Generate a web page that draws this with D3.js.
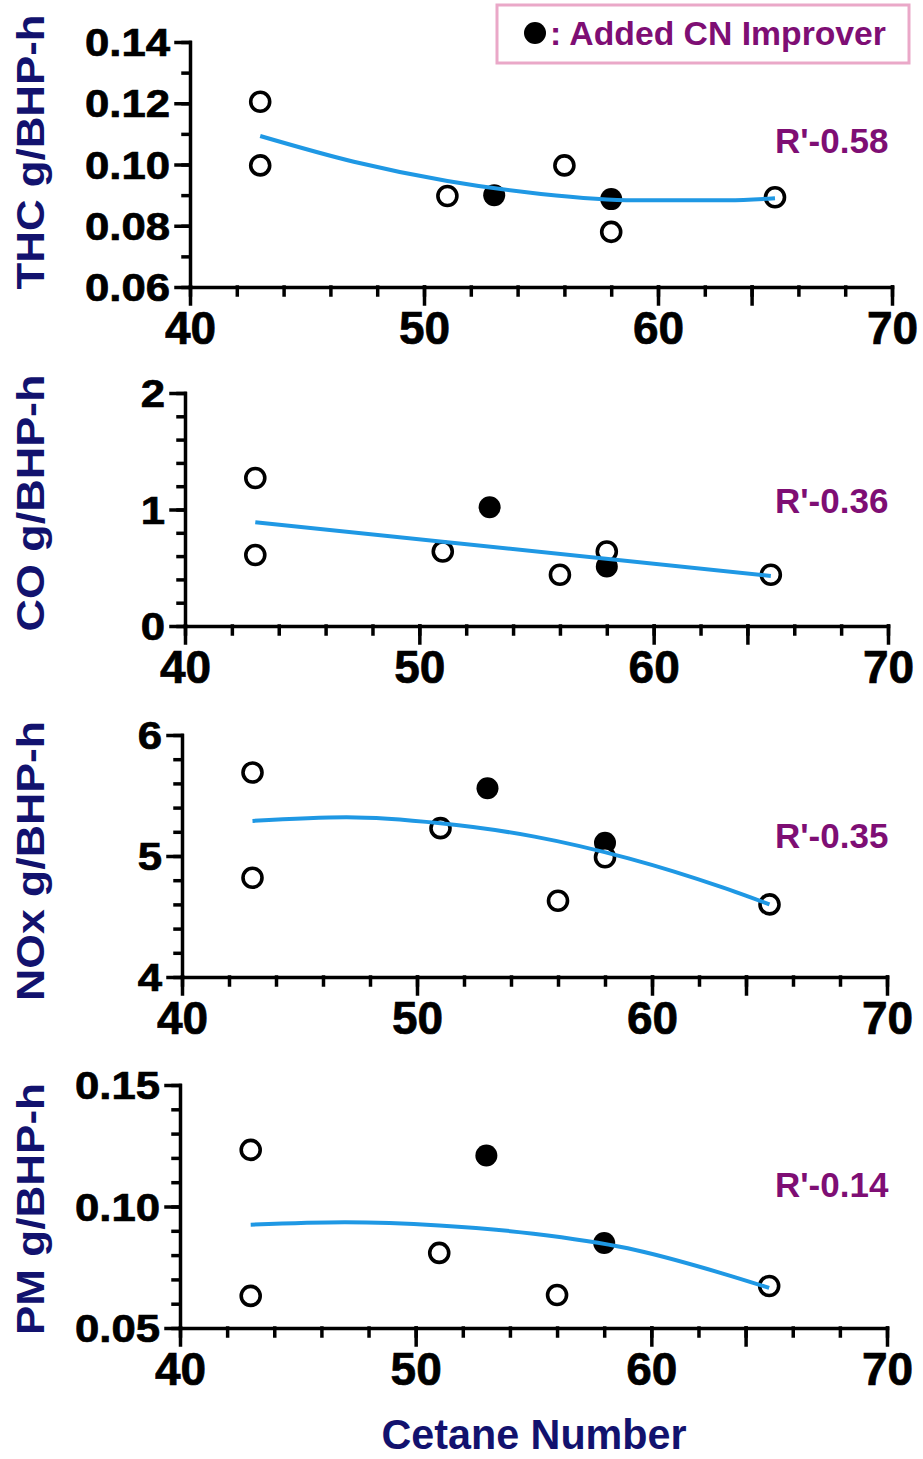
<!DOCTYPE html>
<html>
<head>
<meta charset="utf-8">
<script src="https://cdn.jsdelivr.net/npm/d3@7"></script>
<style>
  html, body { margin: 0; padding: 0; background: #fff; }
  svg { display: block; font-family: "Liberation Sans", Arial, Helvetica, sans-serif; font-weight: bold; }
  .axis .domain, .axis line { stroke: #000; stroke-width: 3.5; stroke-linecap: square; }
  .axis text { stroke: #000; stroke-width: 0.7; }
</style>
</head>
<body>
<div id="chart"></div>
<script>
// measured points, one entry per fuel
const cetane   = [43, 43, 51, 53, 56, 58, 58, 65];
const improver = [0, 0, 0, 1, 0, 1, 0, 0];
const thc = [0.1205, 0.0997, 0.0897, 0.0900, 0.0997, 0.0887, 0.0780, 0.0893];
const co  = [1.27, 0.61, 0.64, 1.02, 0.44, 0.51, 0.64, 0.44];
const nox = [5.69, 4.82, 5.23, 5.56, 4.63, 5.11, 4.99, 4.60];
const pm  = [0.1233, 0.0632, 0.0809, 0.1210, 0.0636, 0.0850, null, 0.0673];

// fitted curves
const fitCN  = [43, 47, 51, 55, 59, 63, 65];
const thcFit = [0.1093, 0.1009, 0.0946, 0.0904, 0.0883, 0.0883, 0.0890];
const noxFit = [5.29, 5.32, 5.27, 5.16, 4.98, 4.74, 4.60];
const pmFit  = [0.0925, 0.0935, 0.0922, 0.0888, 0.0828, 0.0725, 0.0665];
const coFitCN = [43, 65];
const coFit   = [0.89, 0.43];

// axis ticks
const xTicks   = [40, 50, 60, 70];
const thcTicks = [0.06, 0.08, 0.10, 0.12, 0.14];
const coTicks  = [0, 1, 2];
const noxTicks = [4, 5, 6];
const pmTicks  = [0.05, 0.10, 0.15];

const titles  = ['THC g/BHP-h', 'CO g/BHP-h', 'NOx g/BHP-h', 'PM g/BHP-h'];
const rLabels = ["R'-0.58", "R'-0.36", "R'-0.35", "R'-0.14"];

const panels = [
  {title: titles[0], vals: thc, fx: fitCN,   fy: thcFit, ticks: thcTicks, minor: 0.01, fmt: '.2f', r: rLabels[0]},
  {title: titles[1], vals: co,  fx: coFitCN, fy: coFit,  ticks: coTicks,  minor: 0.2,  fmt: 'd',   r: rLabels[1]},
  {title: titles[2], vals: nox, fx: fitCN,   fy: noxFit, ticks: noxTicks, minor: 0.2,  fmt: 'd',   r: rLabels[2]},
  {title: titles[3], vals: pm,  fx: fitCN,   fy: pmFit,  ticks: pmTicks,  minor: 0.01, fmt: '.2f', r: rLabels[3]}
];

// pixel layout of each panel
const layout = [
  {x0: 190, x1: 892, y0: 287,  y1: 42,   tcy: 152,  tlen: 275, ry: 153},
  {x0: 185, x1: 888, y0: 626,  y1: 393,  tcy: 503,  tlen: 257, ry: 513},
  {x0: 182, x1: 887, y0: 977,  y1: 735,  tcy: 861,  tlen: 280, ry: 848},
  {x0: 180, x1: 887, y0: 1328, y1: 1085, tcy: 1209, tlen: 252, ry: 1197}
];

const W = 923, H = 1459;
const navy = '#12126e', purple = '#7e0e74', blue = '#1f98e4';

const svg = d3.select('#chart').append('svg')
  .attr('width', W).attr('height', H)
  .attr('viewBox', `0 0 ${W} ${H}`);

panels.forEach((p, i) => {
  const L = layout[i];
  const x = d3.scaleLinear().domain([40, 70]).range([L.x0, L.x1]);
  const lo = p.ticks[0], hi = p.ticks[p.ticks.length - 1];
  const y = d3.scaleLinear().domain([lo, hi]).range([L.y0, L.y1]);
  const g = svg.append('g');

  // x axis: minor every 2, long ticks at decades (and the odd long one at 64)
  g.append('g').attr('class', 'axis')
    .attr('transform', `translate(0,${L.y0})`)
    .call(d3.axisBottom(x).tickValues(d3.range(40, 71, 2)).tickSize(8).tickSizeOuter(0).tickFormat(''));
  const xa = g.append('g').attr('class', 'axis')
    .attr('transform', `translate(0,${L.y0})`)
    .call(d3.axisBottom(x).tickValues(xTicks.concat([64])).tickSize(17).tickSizeOuter(0)
      .tickFormat(d => d === 64 ? '' : d));
  xa.select('.domain').remove();
  xa.selectAll('text')
    .attr('y', 57).attr('dy', 0)
    .attr('fill', '#000').attr('font-size', 46);

  // y axis
  g.append('g').attr('class', 'axis')
    .attr('transform', `translate(${x(40)},0)`)
    .call(d3.axisLeft(y).tickValues(d3.range(lo, hi + p.minor / 2, p.minor)).tickSize(7).tickSizeOuter(0).tickFormat(''));
  const ya = g.append('g').attr('class', 'axis')
    .attr('transform', `translate(${x(40)},0)`)
    .call(d3.axisLeft(y).tickValues(p.ticks).tickSize(14).tickSizeOuter(0).tickPadding(6)
      .tickFormat(d3.format(p.fmt)));
  ya.select('.domain').remove();
  ya.selectAll('text')
    .attr('fill', '#000').attr('font-size', 38)
    .attr('dy', '0.36em')
    .each(function() {
      const w = this.getComputedTextLength();
      d3.select(this).attr('textLength', w * 1.15).attr('lengthAdjust', 'spacingAndGlyphs');
    });

  // y title
  g.append('text')
    .attr('transform', `translate(44,${L.tcy}) rotate(-90)`)
    .attr('text-anchor', 'middle')
    .attr('font-size', 39)
    .attr('fill', navy)
    .attr('textLength', L.tlen)
    .attr('lengthAdjust', 'spacingAndGlyphs')
    .text(p.title);

  // points
  const pts = cetane.map((c, k) => ({c, v: p.vals[k], f: improver[k]})).filter(d => d.v != null);
  g.selectAll('circle.f').data(pts.filter(d => d.f)).join('circle')
    .attr('class', 'f')
    .attr('cx', d => x(d.c)).attr('cy', d => y(d.v))
    .attr('r', 11).attr('fill', '#000');
  g.selectAll('circle.o').data(pts.filter(d => !d.f)).join('circle')
    .attr('class', 'o')
    .attr('cx', d => x(d.c)).attr('cy', d => y(d.v))
    .attr('r', 9.5).attr('fill', '#fff').attr('stroke', '#000').attr('stroke-width', 3.6);

  // fit curve
  const line = d3.line()
    .x(d => x(d[0])).y(d => y(d[1]))
    .curve(d3.curveMonotoneX);
  g.append('path')
    .datum(p.fx.map((c, k) => [c, p.fy[k]]))
    .attr('d', line)
    .attr('fill', 'none')
    .attr('stroke', blue)
    .attr('stroke-width', 4);

  // R' label
  g.append('text')
    .attr('x', 775).attr('y', L.ry)
    .attr('font-size', 35)
    .attr('fill', purple)
    .text(p.r);
});

// x title
svg.append('text')
  .attr('x', 534).attr('y', 1449)
  .attr('text-anchor', 'middle')
  .attr('font-size', 43)
  .attr('fill', navy)
  .attr('textLength', 305)
  .attr('lengthAdjust', 'spacingAndGlyphs')
  .text('Cetane Number');

// legend
const lg = svg.append('g');
lg.append('rect')
  .attr('x', 497).attr('y', 5).attr('width', 412).attr('height', 58)
  .attr('fill', '#fff').attr('stroke', '#eaa8c8').attr('stroke-width', 3);
lg.append('circle').attr('cx', 535).attr('cy', 33).attr('r', 11).attr('fill', '#000');
lg.append('text')
  .attr('x', 550).attr('y', 45)
  .attr('font-size', 33)
  .attr('fill', purple)
  .attr('textLength', 336)
  .attr('lengthAdjust', 'spacingAndGlyphs')
  .text(': Added CN Improver');
</script>
</body>
</html>
